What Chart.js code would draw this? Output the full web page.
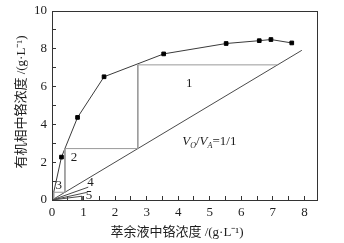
<!DOCTYPE html>
<html>
<head>
<meta charset="utf-8">
<script src="https://cdn.jsdelivr.net/npm/chart.js@4.4.1/dist/chart.umd.min.js"></script>
<style>
  html, body { margin: 0; padding: 0; background: #fff; }
  canvas { display: block; }
</style>
</head>
<body>
<canvas id="chart" width="344" height="243"></canvas>
<script>
(() => {
    'use strict';

    // equilibrium curve (raffinate Cr vs organic Cr), g/L
    const eqX = [0, 0.30, 0.81, 1.65, 3.54, 5.52, 6.57, 6.94, 7.60];
    const eqY = [0, 2.27, 4.37, 6.52, 7.73, 8.28, 8.43, 8.49, 8.31];
    // operating line V_O/V_A = 1/1
    const opX = [0, 7.92];
    const opY = [0, 7.92];
    // McCabe-Thiele steps
    const stepX = [7.15, 2.72, 2.72, 0.41, 0.41, 0.054, 0.054];
    const stepY = [7.15, 7.15, 2.72, 2.72, 0.41, 0.41, 0.054];
    // small lines near origin (4, 5)
    const line4aX = [0, 1.15], line4aY = [0, 0.68];
    const line4bX = [0, 1.10], line4bY = [0, 0.40];
    const line5X = [0, 0.95, 0.95], line5Y = [0, 0.20, 0];

    const xTicks = [0, 1, 2, 3, 4, 5, 6, 7, 8];
    const yTicks = [0, 2, 4, 6, 8, 10];

    const stepLabels = ['1', '2', '3', '4', '5'];
    const stepLabelX = [4.35, 0.70, 0.21, 1.22, 1.17];
    const stepLabelY = [6.17, 2.27, 0.78, 0.90, 0.22];

    const ink = '#1e1e1e';
    const serif = '"Liberation Serif", "Noto Sans CJK SC", serif';
    const pts = (xs, ys) => xs.map((x, i) => ({ x, y: ys[i] }));

    const line = (xs, ys, color) => ({
        data: pts(xs, ys), showLine: true, borderColor: color, borderWidth: 1,
        pointRadius: 0, fill: false, tension: 0
    });

    const decor = {
        id: 'decor',
        afterDatasetsDraw(chart) {
            const { ctx, chartArea: a, scales: { x, y } } = chart;
            ctx.save();
            ctx.strokeStyle = '#333';
            ctx.lineWidth = 1;
            ctx.strokeRect(Math.round(a.left) + 0.5, Math.round(a.top) + 0.5,
                Math.round(a.right - a.left), Math.round(a.bottom - a.top));

            ctx.fillStyle = ink;
            ctx.font = '13px ' + serif;
            ctx.textAlign = 'center';
            ctx.textBaseline = 'middle';
            stepLabels.forEach((t, i) => {
                ctx.fillText(t, x.getPixelForValue(stepLabelX[i]), y.getPixelForValue(stepLabelY[i]));
            });

            // V_O/V_A=1/1
            let px = x.getPixelForValue(4.13);
            const by = y.getPixelForValue(3.2) + 5;
            ctx.textAlign = 'left';
            ctx.textBaseline = 'alphabetic';
            const put = (t, font, dy) => {
                ctx.font = font;
                ctx.fillText(t, px, by + dy);
                px += ctx.measureText(t).width;
            };
            put('V', 'italic 13px ' + serif, 0);
            put('O', 'italic 8px ' + serif, 3);
            put('/', '13px ' + serif, 0);
            put('V', 'italic 13px ' + serif, 0);
            put('A', 'italic 8px ' + serif, 3);
            put('=1/1', '13px ' + serif, 0);

            // axis titles
            ctx.font = '13px ' + serif;
            ctx.textAlign = 'center';
            ctx.textBaseline = 'middle';
            ctx.fillText('萃余液中铬浓度 /(g·L⁻¹)', 177, 233);
            ctx.translate(22, 102);
            ctx.rotate(-Math.PI / 2);
            ctx.fillText('有机相中铬浓度 /(g·L⁻¹)', 0, 0);
            ctx.restore();
        }
    };

    new Chart(document.getElementById('chart'), {
        type: 'scatter',
        data: {
            datasets: [
                line(stepX, stepY, '#9a9a9a'),
                line(opX, opY, '#4a4a4a'),
                line(line4aX, line4aY, '#4a4a4a'),
                line(line4bX, line4bY, '#4a4a4a'),
                line(line5X, line5Y, '#4a4a4a'),
                {
                    data: pts(eqX, eqY), showLine: true, borderColor: '#3a3a3a', borderWidth: 1,
                    pointStyle: 'rect', backgroundColor: '#000',
                    pointRadius: ctx => ctx.dataIndex === 0 ? 0 : 2.6,
                    pointBorderColor: '#000', tension: 0
                }
            ]
        },
        options: {
            responsive: false,
            animation: false,
            events: [],
            layout: { padding: { left: 0, right: 27, top: 11, bottom: 0 } },
            plugins: { legend: { display: false }, tooltip: { enabled: false } },
            scales: {
                x: {
                    type: 'linear', min: 0, max: 8.4,
                    afterFit: s => { s.height = 43; s.paddingLeft = 0; s.paddingRight = 0; },
                    afterBuildTicks: s => {
                        const t = [];
                        for (let v = 0; v <= 8; v += 0.5) t.push({ value: v });
                        s.ticks = t;
                    },
                    ticks: {
                        color: ink, font: { family: serif, size: 13 }, padding: 9, maxRotation: 0,
                        autoSkip: false,
                        callback: v => xTicks.includes(v) ? String(v) : ''
                    },
                    grid: { drawOnChartArea: false, tickLength: -4, color: '#333' },
                    border: { color: '#333' }
                },
                y: {
                    type: 'linear', min: 0, max: 10,
                    afterFit: s => { s.width = 52; s.paddingTop = 0; s.paddingBottom = 0; },
                    afterBuildTicks: s => {
                        const t = [];
                        for (let v = 0; v <= 10; v += 1) t.push({ value: v });
                        s.ticks = t;
                    },
                    ticks: {
                        color: ink, font: { family: serif, size: 13 }, padding: 9,
                        autoSkip: false,
                        callback: v => yTicks.includes(v) ? String(v) : ''
                    },
                    grid: { drawOnChartArea: false, tickLength: -4, color: '#333' },
                    border: { color: '#333' }
                }
            }
        },
        plugins: [decor]
    });
})();
</script>
</body>
</html>
